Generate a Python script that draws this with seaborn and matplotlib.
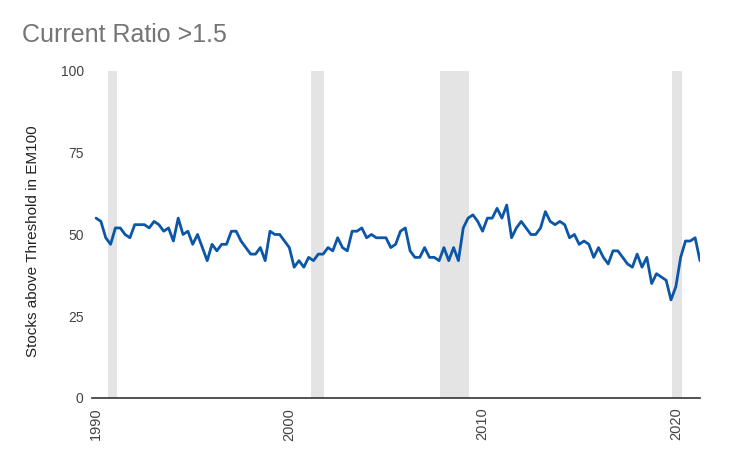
import numpy as np
import pandas as pd
import matplotlib
matplotlib.use("Agg")
import matplotlib.pyplot as plt
import seaborn as sns

# --- Data (quarterly, 1990 Q1 .. 2021 Q2) ---
start_year = 1990
share_above = [
    55, 54, 49, 47, 52, 52, 50, 49, 53, 53, 53, 52, 54, 53, 51, 52,
    48, 55, 50, 51, 47, 50, 46, 42, 47, 45, 47, 47, 51, 51, 48, 46,
    44, 44, 46, 42, 51, 50, 50, 48, 46, 40, 42, 40, 43, 42, 44, 44,
    46, 45, 49, 46, 45, 51, 51, 52, 49, 50, 49, 49, 49, 46, 47, 51,
    52, 45, 43, 43, 46, 43, 43, 42, 46, 42, 46, 42, 52, 55, 56, 54,
    51, 55, 55, 58, 55, 59, 49, 52, 54, 52, 50, 50, 52, 57, 54, 53,
    54, 53, 49, 50, 47, 48, 47, 43, 46, 43, 41, 45, 45, 43, 41, 40,
    44, 40, 43, 35, 38, 37, 36, 30, 34, 43, 48, 48, 49, 42,
]
recessions = [(1990.6, 1991.1), (2001.1, 2001.8), (2007.8, 2009.3), (2019.8, 2020.3)]
y_ticks = [0, 25, 50, 75, 100]
x_ticks = [1990, 2000, 2010, 2020]

title = "Current Ratio >1.5"
y_label = "Stocks above Threshold in EM100"

df = pd.DataFrame({
    "date": start_year + np.arange(len(share_above)) / 4.0,
    "value": share_above,
})

sns.set_style("white")
plt.rcParams["font.family"] = ["Liberation Sans", "DejaVu Sans"]

fig = plt.figure(figsize=(7.5, 4.63), dpi=100)
ax = fig.add_axes([0.1227, 0.1404, 0.8106, 0.7063])

# recession shading
for a, b in recessions:
    ax.axvspan(a, b, color="#e4e4e4", lw=0, zorder=0)

sns.lineplot(data=df, x="date", y="value", ax=ax, color="#0b56a6",
             linewidth=2.0, zorder=3)

ax.set_xlim(1989.79, 2021.25)
ax.set_ylim(0, 100)
ax.set_yticks(y_ticks)
ax.set_xticks(x_ticks)
ax.set_xticklabels([str(t) for t in x_ticks], rotation=90)
ax.tick_params(axis="both", length=0, labelsize=10, labelcolor="#444444")
ax.tick_params(axis="y", pad=6)
ax.tick_params(axis="x", pad=7, labelsize=10.5)

for side in ["top", "right", "left"]:
    ax.spines[side].set_visible(False)
ax.spines["bottom"].set_color("#333333")
ax.spines["bottom"].set_linewidth(1.2)
ax.grid(False)

ax.set_xlabel("")
ax.set_ylabel(y_label, fontsize=11, color="#222222")
ax.yaxis.set_label_coords(-0.085, 0.48)

fig.text(0.03, 0.9086, title, fontsize=18, color="#757575", ha="left", va="baseline")

fig.savefig("out.png", dpi=100)
plt.close(fig)
